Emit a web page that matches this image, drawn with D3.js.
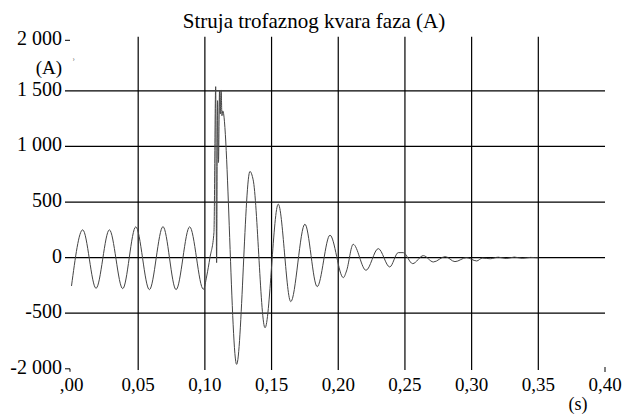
<!doctype html>
<html>
<head>
<meta charset="utf-8">
<script src="https://d3js.org/d3.v7.min.js"></script>
<style>
  body { margin: 0; background: #fff; }
  text { font-family: "Liberation Serif", "Times New Roman", serif; fill: #000; }
</style>
</head>
<body>
<div id="chart"></div>
<script>
// time (s) and current (A)
var times = [0, 0.0084, 0.0184, 0.0284, 0.0384, 0.0482, 0.0584, 0.0686, 0.0784, 0.0886,
  0.0989, 0.1014, 0.1038, 0.1068, 0.1081, 0.1088, 0.1095, 0.1102, 0.1110, 0.1115,
  0.1122, 0.1128, 0.1134, 0.1238, 0.1338, 0.1362, 0.1451, 0.1550, 0.1644, 0.1750,
  0.1842, 0.1938, 0.2038, 0.2062, 0.2112, 0.2208, 0.2300, 0.2386, 0.2450, 0.2487,
  0.2558, 0.2638, 0.2713, 0.2802, 0.2875, 0.2961, 0.3038, 0.3080, 0.3140, 0.3200,
  0.3260, 0.3320, 0.3380, 0.3440, 0.3500];
var current = [-255, 250, -276, 250, -279, 277, -288, 279, -288, 277,
  -285, -165, 0, 225, 1538, -45, 1412, 856, 1502, 1292,
  1508, 1277, 1320, -960, 775, 700, -631, 481, -396, 301,
  -261, 202, -180, -120, 120, -114, 81, -84, 45, 45,
  -54, 18, -39, 9, -36, 0, -30, -4, -10, 4,
  -8, 5, -6, 2, -2];

var yTicks = [2000, 1500, 1000, 500, 0, -500, -1000];
var yTickLabels = ["2 000", "1 500", "1 000", "500", "0", "-500", "-2 000"];
var xTicks = [0, 0.05, 0.10, 0.15, 0.20, 0.25, 0.30, 0.35, 0.40];
var xTickLabels = [",00", "0,05", "0,10", "0,15", "0,20", "0,25", "0,30", "0,35", "0,40"];

var width = 623, height = 416;

var svg = d3.select("#chart").append("svg")
    .attr("width", width)
    .attr("height", height);

var x = d3.scaleLinear().domain([0, 0.4]).range([71.5, 605]);
var y = d3.scaleLinear().domain([-1000, 2000]).range([368.8, 35.3]);

// horizontal grid
svg.append("g")
  .selectAll("line")
  .data([1500, 1000, 500, 0, -500])
  .enter().append("line")
    .attr("x1", 65).attr("x2", 605)
    .attr("y1", function(d) { return y(d); })
    .attr("y2", function(d) { return y(d); })
    .attr("stroke", "#000").attr("stroke-width", 1.2);

// top and bottom short ticks
svg.append("line").attr("x1", 65).attr("x2", 70)
  .attr("y1", y(2000) + 5).attr("y2", y(2000) + 5).attr("stroke", "#000");
svg.append("path")
  .attr("d", "M65," + y(-1000) + "H70V" + (y(-1000) + 3))
  .attr("fill", "none").attr("stroke", "#000");

// vertical grid
svg.append("g")
  .selectAll("line")
  .data(xTicks.slice(1, 8))
  .enter().append("line")
    .attr("x1", function(d) { return x(d); })
    .attr("x2", function(d) { return x(d); })
    .attr("y1", 36.7).attr("y2", 370)
    .attr("stroke", "#000").attr("stroke-width", 1.2);
svg.append("line").attr("x1", x(0.4)).attr("x2", x(0.4))
  .attr("y1", 367).attr("y2", 372).attr("stroke", "#000");

// y labels
svg.append("g")
  .selectAll("text")
  .data(yTicks)
  .enter().append("text")
    .attr("x", 62)
    .attr("y", function(d, i) { return y(d) + (i == 0 ? 3 : -2); })
    .attr("dy", "0.35em")
    .attr("text-anchor", "end")
    .style("font-size", "20px")
    .text(function(d, i) { return yTickLabels[i]; });

// x labels
svg.append("g")
  .selectAll("text")
  .data(xTicks)
  .enter().append("text")
    .attr("x", function(d) { return x(d); })
    .attr("y", 391)
    .attr("text-anchor", "middle")
    .style("font-size", "19px")
    .text(function(d, i) { return xTickLabels[i]; });

// units and title
svg.append("text").attr("x", 49).attr("y", 74).attr("text-anchor", "middle")
  .style("font-size", "19px").text("(A)");
svg.append("text").attr("x", 72).attr("y", 66).style("font-size", "10px").text("ʾ");
svg.append("text").attr("x", 578).attr("y", 410).attr("text-anchor", "middle")
  .style("font-size", "18px").text("(s)");
svg.append("text").attr("x", 314).attr("y", 28).attr("text-anchor", "middle")
  .style("font-size", "21px").text("Struja trofaznog kvara faza (A)");

// waveform
var pts = times.map(function(t, i) { return [t, current[i]]; });
svg.append("path")
  .datum(pts)
  .attr("fill", "none")
  .attr("stroke", "#444")
  .attr("stroke-width", 1)
  .attr("d", d3.line()
    .x(function(d) { return x(d[0]); })
    .y(function(d) { return y(d[1]); })
    .curve(d3.curveMonotoneX));
</script>
</body>
</html>
